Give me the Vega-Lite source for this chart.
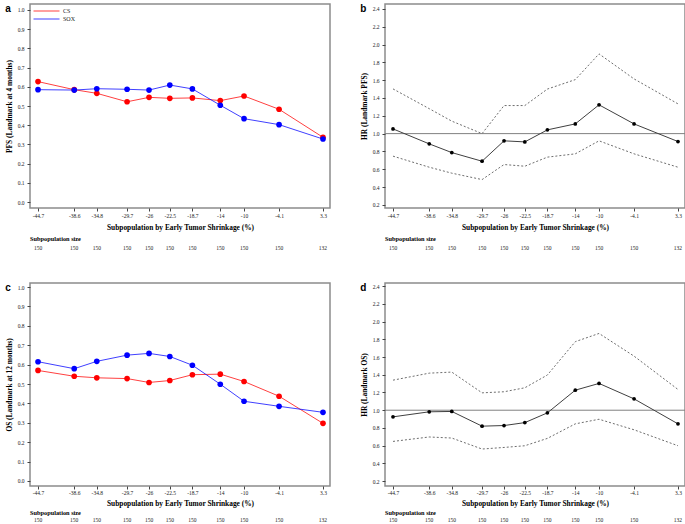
{
  "$schema": "https://vega.github.io/schema/vega-lite/v6.json",
  "padding": {"left": 4, "top": 3, "right": 0, "bottom": 0},
  "background": "white",
  "datasets": {
    "pfs": [
      {"x": -44.7, "arm": "CS", "rate": 0.627}, {"x": -38.6, "arm": "CS", "rate": 0.585}, {"x": -34.8, "arm": "CS", "rate": 0.566},
      {"x": -29.7, "arm": "CS", "rate": 0.522}, {"x": -26, "arm": "CS", "rate": 0.545}, {"x": -22.5, "arm": "CS", "rate": 0.540},
      {"x": -18.7, "arm": "CS", "rate": 0.542}, {"x": -14, "arm": "CS", "rate": 0.528}, {"x": -10, "arm": "CS", "rate": 0.552},
      {"x": -4.1, "arm": "CS", "rate": 0.483}, {"x": 3.3, "arm": "CS", "rate": 0.337},
      {"x": -44.7, "arm": "SOX", "rate": 0.585}, {"x": -38.6, "arm": "SOX", "rate": 0.583}, {"x": -34.8, "arm": "SOX", "rate": 0.590},
      {"x": -29.7, "arm": "SOX", "rate": 0.587}, {"x": -26, "arm": "SOX", "rate": 0.583}, {"x": -22.5, "arm": "SOX", "rate": 0.609},
      {"x": -18.7, "arm": "SOX", "rate": 0.589}, {"x": -14, "arm": "SOX", "rate": 0.504}, {"x": -10, "arm": "SOX", "rate": 0.434},
      {"x": -4.1, "arm": "SOX", "rate": 0.403}, {"x": 3.3, "arm": "SOX", "rate": 0.328}
    ],
    "os": [
      {"x": -44.7, "arm": "CS", "rate": 0.570}, {"x": -38.6, "arm": "CS", "rate": 0.540}, {"x": -34.8, "arm": "CS", "rate": 0.532},
      {"x": -29.7, "arm": "CS", "rate": 0.528}, {"x": -26, "arm": "CS", "rate": 0.508}, {"x": -22.5, "arm": "CS", "rate": 0.518},
      {"x": -18.7, "arm": "CS", "rate": 0.548}, {"x": -14, "arm": "CS", "rate": 0.551}, {"x": -10, "arm": "CS", "rate": 0.513},
      {"x": -4.1, "arm": "CS", "rate": 0.437}, {"x": 3.3, "arm": "CS", "rate": 0.297},
      {"x": -44.7, "arm": "SOX", "rate": 0.615}, {"x": -38.6, "arm": "SOX", "rate": 0.579}, {"x": -34.8, "arm": "SOX", "rate": 0.617},
      {"x": -29.7, "arm": "SOX", "rate": 0.649}, {"x": -26, "arm": "SOX", "rate": 0.658}, {"x": -22.5, "arm": "SOX", "rate": 0.642},
      {"x": -18.7, "arm": "SOX", "rate": 0.597}, {"x": -14, "arm": "SOX", "rate": 0.499}, {"x": -10, "arm": "SOX", "rate": 0.411},
      {"x": -4.1, "arm": "SOX", "rate": 0.385}, {"x": 3.3, "arm": "SOX", "rate": 0.354}
    ],
    "hrpfs": [
      {"x": -44.7, "hr": 1.053, "lo": 0.747, "hi": 1.502}, {"x": -38.6, "hr": 0.885, "lo": 0.623, "hi": 1.28},
      {"x": -34.8, "hr": 0.787, "lo": 0.556, "hi": 1.14}, {"x": -29.7, "hr": 0.69, "lo": 0.484, "hi": 1.0},
      {"x": -26, "hr": 0.919, "lo": 0.653, "hi": 1.315}, {"x": -22.5, "hr": 0.907, "lo": 0.634, "hi": 1.315},
      {"x": -18.7, "hr": 1.042, "lo": 0.736, "hi": 1.5}, {"x": -14, "hr": 1.109, "lo": 0.773, "hi": 1.606},
      {"x": -10, "hr": 1.323, "lo": 0.919, "hi": 1.895}, {"x": -4.1, "hr": 1.109, "lo": 0.773, "hi": 1.614},
      {"x": 3.3, "hr": 0.911, "lo": 0.623, "hi": 1.334}
    ],
    "hros": [
      {"x": -44.7, "hr": 0.925, "lo": 0.648, "hi": 1.339}, {"x": -38.6, "hr": 0.982, "lo": 0.698, "hi": 1.418},
      {"x": -34.8, "hr": 0.986, "lo": 0.686, "hi": 1.43}, {"x": -29.7, "hr": 0.82, "lo": 0.562, "hi": 1.196},
      {"x": -26, "hr": 0.827, "lo": 0.58, "hi": 1.208}, {"x": -22.5, "hr": 0.86, "lo": 0.599, "hi": 1.253},
      {"x": -18.7, "hr": 0.97, "lo": 0.682, "hi": 1.397}, {"x": -14, "hr": 1.226, "lo": 0.846, "hi": 1.773},
      {"x": -10, "hr": 1.302, "lo": 0.898, "hi": 1.866}, {"x": -4.1, "hr": 1.128, "lo": 0.779, "hi": 1.61},
      {"x": 3.3, "hr": 0.846, "lo": 0.599, "hi": 1.234}
    ],
    "sizes": [
      {"x": -44.7, "n": 150}, {"x": -38.6, "n": 150}, {"x": -34.8, "n": 150}, {"x": -29.7, "n": 150},
      {"x": -26, "n": 150}, {"x": -22.5, "n": 150}, {"x": -18.7, "n": 150}, {"x": -14, "n": 150},
      {"x": -10, "n": 150}, {"x": -4.1, "n": 150}, {"x": 3.3, "n": 132}
    ],
    "ref": [{"hr": 1}]
  },
  "config": {
    "font": "Liberation Serif",
    "view": {"stroke": "#8c8c8c", "strokeWidth": 1.5},
    "axis": {
      "domain": false, "grid": false, "tickColor": "#444", "tickSize": 3, "labelOverlap": false, "tickCount": 30,
      "labelFont": "Liberation Serif", "labelFontSize": 5.5, "labelColor": "#222", "labelPadding": 3,
      "titleFont": "Liberation Serif", "titleFontSize": 7.4, "titleFontWeight": "bold", "titleColor": "#000", "titlePadding": 4
    },
    "axisX": {"labelPadding": 2, "titlePadding": 5},
    "title": {"anchor": "start", "frame": "bounds", "font": "Liberation Sans", "fontSize": 10, "fontWeight": "bold", "color": "#000"},
    "legend": {
      "orient": "top-left", "offset": 2, "padding": 1, "title": null,
      "symbolType": "stroke", "symbolSize": 676, "symbolStrokeWidth": 1, "clipHeight": 8, "labelOffset": 3,
      "labelFont": "Liberation Serif", "labelFontSize": 6, "labelColor": "#222", "rowPadding": 0
    }
  },
  "spacing": 29,
  "vconcat": [
    {
      "spacing": 28,
      "hconcat": [
        {
          "spacing": 3,
          "vconcat": [
            {
              "width": 300, "height": 204,
              "title": {"text": "a", "offset": -10},
              "layer": [
                {
                  "data": {"name": "pfs"},
                  "mark": {"type": "line", "strokeWidth": 1, "opacity": 0.75},
                  "encoding": {
                    "x": {"field": "x", "type": "quantitative", "scale": {"domain": [-46.05, 4.48], "nice": false, "zero": false},
                      "axis": {"values": [-44.7, -38.6, -34.8, -29.7, -26, -22.5, -18.7, -14, -10, -4.1, 3.3], "tickCount": 30, "labelOverlap": false, "labelExpr": "toString(datum.value)", "title": "Subpopulation by Early Tumor Shrinkage (%)"}},
                    "y": {"field": "rate", "type": "quantitative", "scale": {"domain": [-0.031, 1.031], "nice": false, "zero": false},
                      "axis": {"values": [0, 0.1, 0.2, 0.3, 0.4, 0.5, 0.6, 0.7, 0.8, 0.9, 1.0], "tickCount": 30, "labelOverlap": false, "format": ".1f", "title": "PFS (Landmark at 4 months)"}},
                    "color": {"field": "arm", "type": "nominal", "scale": {"domain": ["CS", "SOX"], "range": ["#ff0000", "#0000ff"]}, "legend": {}}
                  }
                },
                {
                  "data": {"name": "pfs"},
                  "mark": {"type": "point", "filled": true, "size": 32, "opacity": 1},
                  "encoding": {
                    "x": {"field": "x", "type": "quantitative"},
                    "y": {"field": "rate", "type": "quantitative"},
                    "fill": {"field": "arm", "type": "nominal", "scale": {"domain": ["CS", "SOX"], "range": ["#ff0000", "#0000ff"]}, "legend": null}
                  }
                }
              ]
            },
            {
              "width": 300, "height": 10,
              "view": {"stroke": null},
              "title": {"text": "Subpopulation size", "frame": "group", "font": "Liberation Serif", "fontSize": 6.3, "fontWeight": "bold", "offset": 1},
              "data": {"name": "sizes"},
              "mark": {"type": "text", "fontSize": 5.5, "color": "#222"},
              "encoding": {
                "x": {"field": "x", "type": "quantitative", "scale": {"domain": [-46.05, 4.48], "nice": false, "zero": false}, "axis": null},
                "text": {"field": "n", "type": "quantitative"}
              }
            }
          ]
        },
        {
          "spacing": 3,
          "vconcat": [
            {
              "width": 300, "height": 204,
              "title": {"text": "b", "offset": -10},
              "layer": [
                {
                  "data": {"name": "ref"},
                  "mark": {"type": "rule", "color": "#808080", "strokeWidth": 1},
                  "encoding": {"y": {"field": "hr", "type": "quantitative"}}
                },
                {
                  "data": {"name": "hrpfs"},
                  "mark": {"type": "line", "color": "#6e6e6e", "strokeWidth": 1, "strokeDash": [2, 2]},
                  "encoding": {
                    "x": {"field": "x", "type": "quantitative", "scale": {"domain": [-46.05, 4.48], "nice": false, "zero": false},
                      "axis": {"values": [-44.7, -38.6, -34.8, -29.7, -26, -22.5, -18.7, -14, -10, -4.1, 3.3], "tickCount": 30, "labelOverlap": false, "labelExpr": "toString(datum.value)", "title": "Subpopulation by Early Tumor Shrinkage (%)"}},
                    "y": {"field": "hi", "type": "quantitative", "scale": {"domain": [0.165, 2.455], "nice": false, "zero": false},
                      "axis": {"values": [0.2, 0.4, 0.6, 0.8, 1.0, 1.2, 1.4, 1.6, 1.8, 2.0, 2.2, 2.4], "tickCount": 30, "labelOverlap": false, "format": ".1f", "title": "HR (Landmark PFS)"}}
                  }
                },
                {
                  "data": {"name": "hrpfs"},
                  "mark": {"type": "line", "color": "#6e6e6e", "strokeWidth": 1, "strokeDash": [2, 2]},
                  "encoding": {"x": {"field": "x", "type": "quantitative"}, "y": {"field": "lo", "type": "quantitative"}}
                },
                {
                  "data": {"name": "hrpfs"},
                  "mark": {"type": "line", "color": "#404040", "strokeWidth": 1},
                  "encoding": {"x": {"field": "x", "type": "quantitative"}, "y": {"field": "hr", "type": "quantitative"}}
                },
                {
                  "data": {"name": "hrpfs"},
                  "mark": {"type": "point", "filled": true, "size": 14, "color": "#000", "opacity": 1},
                  "encoding": {"x": {"field": "x", "type": "quantitative"}, "y": {"field": "hr", "type": "quantitative"}}
                }
              ]
            },
            {
              "width": 300, "height": 10,
              "view": {"stroke": null},
              "title": {"text": "Subpopulation size", "frame": "group", "font": "Liberation Serif", "fontSize": 6.3, "fontWeight": "bold", "offset": 1},
              "data": {"name": "sizes"},
              "mark": {"type": "text", "fontSize": 5.5, "color": "#222"},
              "encoding": {
                "x": {"field": "x", "type": "quantitative", "scale": {"domain": [-46.05, 4.48], "nice": false, "zero": false}, "axis": null},
                "text": {"field": "n", "type": "quantitative"}
              }
            }
          ]
        }
      ]
    },
    {
      "spacing": 28,
      "hconcat": [
        {
          "spacing": 1,
          "vconcat": [
            {
              "width": 300, "height": 203,
              "title": {"text": "c", "offset": -10},
              "layer": [
                {
                  "data": {"name": "os"},
                  "mark": {"type": "line", "strokeWidth": 1, "opacity": 0.75},
                  "encoding": {
                    "x": {"field": "x", "type": "quantitative", "scale": {"domain": [-46.05, 4.48], "nice": false, "zero": false},
                      "axis": {"values": [-44.7, -38.6, -34.8, -29.7, -26, -22.5, -18.7, -14, -10, -4.1, 3.3], "tickCount": 30, "labelOverlap": false, "labelExpr": "toString(datum.value)", "title": "Subpopulation by Early Tumor Shrinkage (%)", "labelPadding": 1, "titlePadding": 4}},
                    "y": {"field": "rate", "type": "quantitative", "scale": {"domain": [-0.026, 1.021], "nice": false, "zero": false},
                      "axis": {"values": [0, 0.1, 0.2, 0.3, 0.4, 0.5, 0.6, 0.7, 0.8, 0.9, 1.0], "tickCount": 30, "labelOverlap": false, "format": ".1f", "title": "OS (Landmark at 12 months)"}},
                    "color": {"field": "arm", "type": "nominal", "scale": {"domain": ["CS", "SOX"], "range": ["#ff0000", "#0000ff"]}, "legend": {}}
                  }
                },
                {
                  "data": {"name": "os"},
                  "mark": {"type": "point", "filled": true, "size": 32, "opacity": 1},
                  "encoding": {
                    "x": {"field": "x", "type": "quantitative"},
                    "y": {"field": "rate", "type": "quantitative"},
                    "fill": {"field": "arm", "type": "nominal", "scale": {"domain": ["CS", "SOX"], "range": ["#ff0000", "#0000ff"]}, "legend": null}
                  }
                }
              ]
            },
            {
              "width": 300, "height": 7,
              "view": {"stroke": null},
              "title": {"text": "Subpopulation size", "frame": "group", "font": "Liberation Serif", "fontSize": 6.3, "fontWeight": "bold", "offset": 0},
              "data": {"name": "sizes"},
              "mark": {"type": "text", "fontSize": 5.5, "color": "#222"},
              "encoding": {
                "x": {"field": "x", "type": "quantitative", "scale": {"domain": [-46.05, 4.48], "nice": false, "zero": false}, "axis": null},
                "text": {"field": "n", "type": "quantitative"}
              }
            }
          ]
        },
        {
          "spacing": 1,
          "vconcat": [
            {
              "width": 300, "height": 203,
              "title": {"text": "d", "offset": -10},
              "layer": [
                {
                  "data": {"name": "ref"},
                  "mark": {"type": "rule", "color": "#808080", "strokeWidth": 1},
                  "encoding": {"y": {"field": "hr", "type": "quantitative"}}
                },
                {
                  "data": {"name": "hros"},
                  "mark": {"type": "line", "color": "#6e6e6e", "strokeWidth": 1, "strokeDash": [2, 2]},
                  "encoding": {
                    "x": {"field": "x", "type": "quantitative", "scale": {"domain": [-46.05, 4.48], "nice": false, "zero": false},
                      "axis": {"values": [-44.7, -38.6, -34.8, -29.7, -26, -22.5, -18.7, -14, -10, -4.1, 3.3], "tickCount": 30, "labelOverlap": false, "labelExpr": "toString(datum.value)", "title": "Subpopulation by Early Tumor Shrinkage (%)", "labelPadding": 1, "titlePadding": 4}},
                    "y": {"field": "hi", "type": "quantitative", "scale": {"domain": [0.145, 2.435], "nice": false, "zero": false},
                      "axis": {"values": [0.2, 0.4, 0.6, 0.8, 1.0, 1.2, 1.4, 1.6, 1.8, 2.0, 2.2, 2.4], "tickCount": 30, "labelOverlap": false, "format": ".1f", "title": "HR (Landmark OS)"}}
                  }
                },
                {
                  "data": {"name": "hros"},
                  "mark": {"type": "line", "color": "#6e6e6e", "strokeWidth": 1, "strokeDash": [2, 2]},
                  "encoding": {"x": {"field": "x", "type": "quantitative"}, "y": {"field": "lo", "type": "quantitative"}}
                },
                {
                  "data": {"name": "hros"},
                  "mark": {"type": "line", "color": "#404040", "strokeWidth": 1},
                  "encoding": {"x": {"field": "x", "type": "quantitative"}, "y": {"field": "hr", "type": "quantitative"}}
                },
                {
                  "data": {"name": "hros"},
                  "mark": {"type": "point", "filled": true, "size": 14, "color": "#000", "opacity": 1},
                  "encoding": {"x": {"field": "x", "type": "quantitative"}, "y": {"field": "hr", "type": "quantitative"}}
                }
              ]
            },
            {
              "width": 300, "height": 7,
              "view": {"stroke": null},
              "title": {"text": "Subpopulation size", "frame": "group", "font": "Liberation Serif", "fontSize": 6.3, "fontWeight": "bold", "offset": 0},
              "data": {"name": "sizes"},
              "mark": {"type": "text", "fontSize": 5.5, "color": "#222"},
              "encoding": {
                "x": {"field": "x", "type": "quantitative", "scale": {"domain": [-46.05, 4.48], "nice": false, "zero": false}, "axis": null},
                "text": {"field": "n", "type": "quantitative"}
              }
            }
          ]
        }
      ]
    }
  ]
}
